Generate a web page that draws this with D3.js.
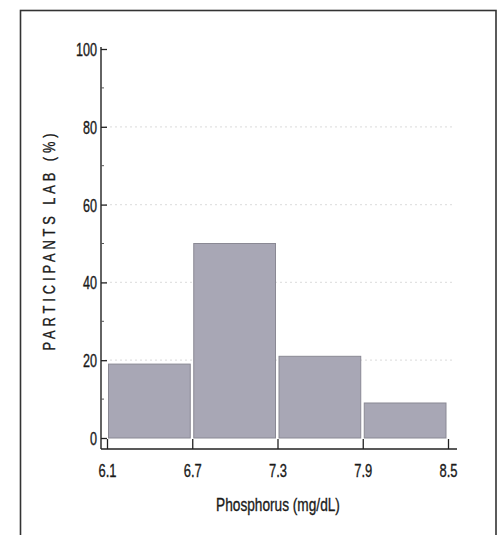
<!DOCTYPE html>
<html><head><meta charset="utf-8">
<script src="https://cdn.jsdelivr.net/npm/d3@7"></script>
<style>
html,body{margin:0;padding:0;background:#fff;}
text{font-family:"Liberation Sans","Arial",sans-serif;fill:#1a1a1a;stroke:#1a1a1a;stroke-width:0.35px;}
</style></head>
<body>
<svg id="c" width="499" height="535"></svg>
<script>
// Data
const binEdges = [6.1, 6.7, 7.3, 7.9, 8.5];
const percents = [19, 50, 21, 9];
const yTicks = [0, 20, 40, 60, 80, 100];
const yMinorTicks = [10, 30, 50, 70, 90];
const gridValues = [20, 40, 60, 80];
const xTickLabels = ["6.1", "6.7", "7.3", "7.9", "8.5"];
const yTitle = "PARTICIPANTS LAB (%)";
const xTitle = "Phosphorus (mg/dL)";

const svg = d3.select("#c");
const x = d3.scaleLinear().domain([6.1, 8.5]).range([107, 448]);
const y = d3.scaleLinear().domain([0, 100]).range([438, 49]);
const axisY = 449, axisX = 101;

// frame
svg.append("rect").attr("x", 20.5).attr("y", 10.5).attr("width", 475.5).attr("height", 526)
  .attr("fill", "none").attr("stroke", "#333").attr("stroke-width", 1.6);

// faint dotted grid (behind bars)
svg.append("g").selectAll("line").data(gridValues).join("line")
  .attr("x1", axisX + 4).attr("x2", 455)
  .attr("y1", d => y(d)).attr("y2", d => y(d))
  .attr("stroke", "#e2e2e2").attr("stroke-width", 1.2).attr("stroke-dasharray", "2,3");

// bars
const bins = percents.map((v, i) => ({x0: binEdges[i], x1: binEdges[i + 1], v}));
svg.append("g").selectAll("rect").data(bins).join("rect")
  .attr("x", d => x(d.x0) + 1.5)
  .attr("width", d => x(d.x1) - x(d.x0) - 3.5)
  .attr("y", d => y(d.v))
  .attr("height", d => y(0) - y(d.v))
  .attr("fill", "#a8a7b5")
  .attr("stroke", "#8a8994").attr("stroke-width", 1);

// y axis
const yAxis = d3.axisRight(y).tickValues(yTicks).tickSize(6).tickFormat(d3.format("d"));
const gy = svg.append("g").attr("transform", `translate(${axisX},0)`).call(yAxis);
gy.select(".domain").remove();
gy.selectAll(".tick line").attr("stroke", "#222").attr("stroke-width", 1.3);
gy.selectAll(".tick text").attr("x", 0).attr("dy", "0.36em")
  .attr("transform", "translate(-4,0) scale(0.7,1)")
  .attr("text-anchor", "end").style("font-size", "18px").attr("fill", "#1a1a1a");
svg.append("line").attr("x1", axisX).attr("x2", axisX).attr("y1", y(100) - 2).attr("y2", axisY)
  .attr("stroke", "#222").attr("stroke-width", 1.4);
svg.append("g").selectAll("line").data(yMinorTicks).join("line")
  .attr("x1", axisX).attr("x2", axisX + 3)
  .attr("y1", d => y(d)).attr("y2", d => y(d))
  .attr("stroke", "#555").attr("stroke-width", 1);

// x axis
const xAxis = d3.axisTop(x).tickValues(binEdges).tickSize(10).tickFormat((d, i) => xTickLabels[i]);
const gx = svg.append("g").attr("transform", `translate(0,${axisY})`).call(xAxis);
gx.select(".domain").remove();
gx.selectAll(".tick line").attr("stroke", "#222").attr("stroke-width", 1.3);
gx.selectAll(".tick text").attr("y", 0).attr("dy", 0)
  .attr("transform", "translate(0,28) scale(0.72,1)")
  .style("font-size", "18px").attr("fill", "#1a1a1a");
svg.append("line").attr("x1", axisX).attr("x2", 457).attr("y1", axisY).attr("y2", axisY)
  .attr("stroke", "#222").attr("stroke-width", 1.6);

// titles
svg.append("text").attr("transform", "translate(55,240) rotate(-90) scale(0.78,1)")
  .attr("text-anchor", "middle").style("font-size", "16.5px").style("letter-spacing", "5px")
  .text(yTitle);
svg.append("text").attr("transform", "translate(278,511) scale(0.76,1)").attr("text-anchor", "middle")
  .style("font-size", "18px").text(xTitle);
</script>
</body></html>
